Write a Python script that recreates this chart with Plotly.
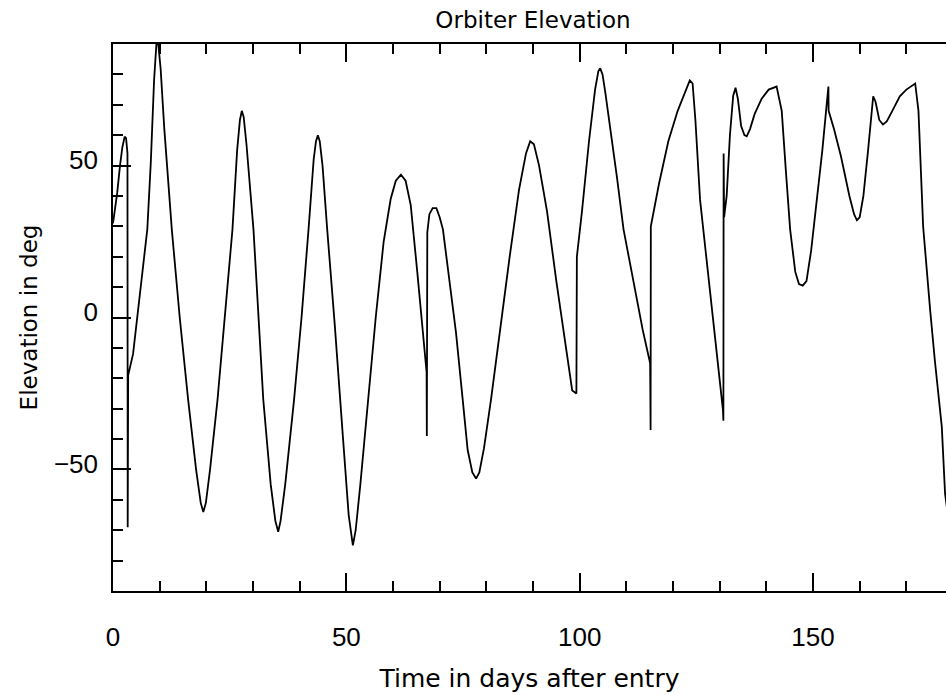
import plotly.graph_objects as go

# Time in days after entry
t_days = [0.0, 0.4, 0.9, 1.5, 2.0, 2.5, 2.8, 3.1, 3.15, 3.25, 4.3, 5.5, 6.9, 7.35, 8.1, 8.8,
          9.3, 9.7, 10.2, 11.0, 12.6, 14.3, 16.1, 17.8, 18.8, 19.35, 19.9, 20.8, 22.4, 24.0,
          25.6, 26.6, 27.2, 27.6, 28.0, 28.6, 30.1, 32.2, 33.8, 34.8, 35.4, 35.9, 36.9, 38.8,
          40.4, 41.9, 43.0, 43.5, 43.9, 44.3, 44.9, 45.9, 47.5, 49.3, 50.5, 51.4, 52.0, 53.0,
          54.6, 56.3, 58.0, 59.5, 60.6, 61.7, 62.7, 63.8, 65.2, 66.4, 67.2, 67.25, 67.35, 67.8,
          68.5, 69.3, 70.0, 70.7, 72.0, 73.5, 75.0, 76.0, 77.0, 77.8, 78.5, 79.5, 81.0, 83.0,
          85.0, 87.0, 88.5, 89.4, 90.2, 91.3, 93.0, 95.0, 96.8, 97.8, 98.4, 99.3, 99.4, 100.5,
          102.0, 103.3, 104.0, 104.4, 104.9, 105.5, 106.5, 108.0, 109.4, 111.5, 113.5, 114.8,
          115.1, 115.2, 115.25, 117.0, 119.0, 121.0, 122.5, 123.6, 124.2, 124.8, 125.8, 127.5,
          129.5, 130.7, 130.8, 130.85, 130.95, 131.5, 132.2, 132.9, 133.4, 133.9, 134.6, 135.3,
          135.8, 136.5, 137.5, 139.0, 140.5, 142.2, 142.8, 143.3, 144.2, 145.1, 146.2, 147.0,
          147.8, 148.6, 149.6, 150.8, 152.0, 152.8, 153.2, 153.3, 153.35, 154.5, 156.0, 157.8,
          158.8, 159.4, 160.0, 160.8, 161.8, 162.5, 162.9, 163.4, 164.2, 165.0, 165.8, 167.0,
          168.6, 170.0, 171.5, 171.9, 172.6, 173.6, 175.1, 176.1, 177.6, 178.3, 179.0]

# Orbiter elevation in degrees
elev_deg = [31, 35, 41, 50, 56, 59.5, 59, 54, -69, -19, -12, 4, 22, 29, 51, 78,
            90, 90, 82, 62, 29, 0, -27, -50, -61, -64, -61, -50, -27, 0,
            29, 55, 65, 68, 66, 57, 29, -27, -55, -67, -70.5, -67, -55, -27,
            0, 29, 52, 58, 60, 58, 50, 29, -2, -40, -65, -75, -70, -55,
            -27, 0, 25, 39, 45, 47, 45, 37, 15, -5, -18, -39, 28, 34,
            36, 36, 33, 29, 13, -5, -28, -43.6, -51, -53, -51, -43, -27, -3,
            20, 42, 54, 58, 57, 50, 35, 12, -8, -19, -24, -25, 20, 35,
            58, 75, 81, 82, 80, 74, 63, 46, 29, 12, -4, -13,
            -15, -37, 30, 44, 58, 68, 74, 78, 77, 65, 38.7, 15,
            -13, -30.4, -34, 54, 33, 40, 60, 73, 75.6, 72, 63, 60,
            59.6, 62, 67, 72, 75, 76, 72, 68, 48, 29, 15, 11,
            10.5, 12, 22, 38, 55, 68, 76, 76, 68, 62, 53, 40,
            34, 32, 33, 40, 55, 68, 72.8, 71, 65, 63.5, 64.5, 68,
            72.8, 75, 76.7, 77, 68, 30, 2.5, -14, -36, -58, -66]

x_ticks = [0, 50, 100, 150]
y_ticks = [-50, 0, 50]

fig = go.Figure()
fig.add_trace(go.Scatter(x=t_days, y=elev_deg, mode="lines",
                         line=dict(color="black", width=1.8), showlegend=False))

FONT = "DejaVu Sans"
fig.update_layout(
    width=946, height=695,
    margin=dict(l=113, r=0, t=44, b=104),
    paper_bgcolor="white", plot_bgcolor="white",
    font=dict(family=FONT, color="black", size=22),
    title=dict(text="Orbiter Elevation", x=(533 - 113) / 833, xref="paper",
               xanchor="center", y=1 - 20 / 695, yref="container", yanchor="middle",
               font=dict(family=FONT, size=23, color="black")),
    xaxis=dict(range=[0, 180 * 833 / 840], tickvals=x_ticks, ticks="inside", ticklen=18,
               tickwidth=1.5, tickcolor="black", showline=True, linecolor="black",
               linewidth=1.6, mirror="ticks", showgrid=False, zeroline=False,
               minor=dict(dtick=10, ticks="inside", ticklen=10, tickwidth=1.5,
                          tickcolor="black", showgrid=False),
               tickfont=dict(family="Liberation Sans", size=26),
               ticklabelstandoff=22,
               title=dict(text="Time in days after entry", standoff=18,
                          font=dict(family=FONT, size=25))),
    yaxis=dict(range=[-90, 90], tickvals=y_ticks, ticks="inside", ticklen=18,
               tickwidth=1.5, tickcolor="black", showline=True, linecolor="black",
               linewidth=1.6, showgrid=False, zeroline=False,
               minor=dict(dtick=10, ticks="inside", ticklen=10, tickwidth=1.5,
                          tickcolor="black", showgrid=False),
               tickfont=dict(family="Liberation Sans", size=26),
               ticklabelstandoff=8, ticklabelshift=-6,
               title=dict(text="Elevation in deg", standoff=10,
                          font=dict(family=FONT, size=23))),
    yaxis2=dict(range=[-90, 90], overlaying="y", side="right", tickvals=y_ticks,
                ticks="inside", ticklen=11, tickwidth=1.5, tickcolor="black",
                showline=False, showgrid=False, zeroline=False, showticklabels=False,
                minor=dict(dtick=10, ticks="inside", ticklen=3, tickwidth=1.5,
                           tickcolor="black", showgrid=False)),
)

fig.write_html("out.html")
